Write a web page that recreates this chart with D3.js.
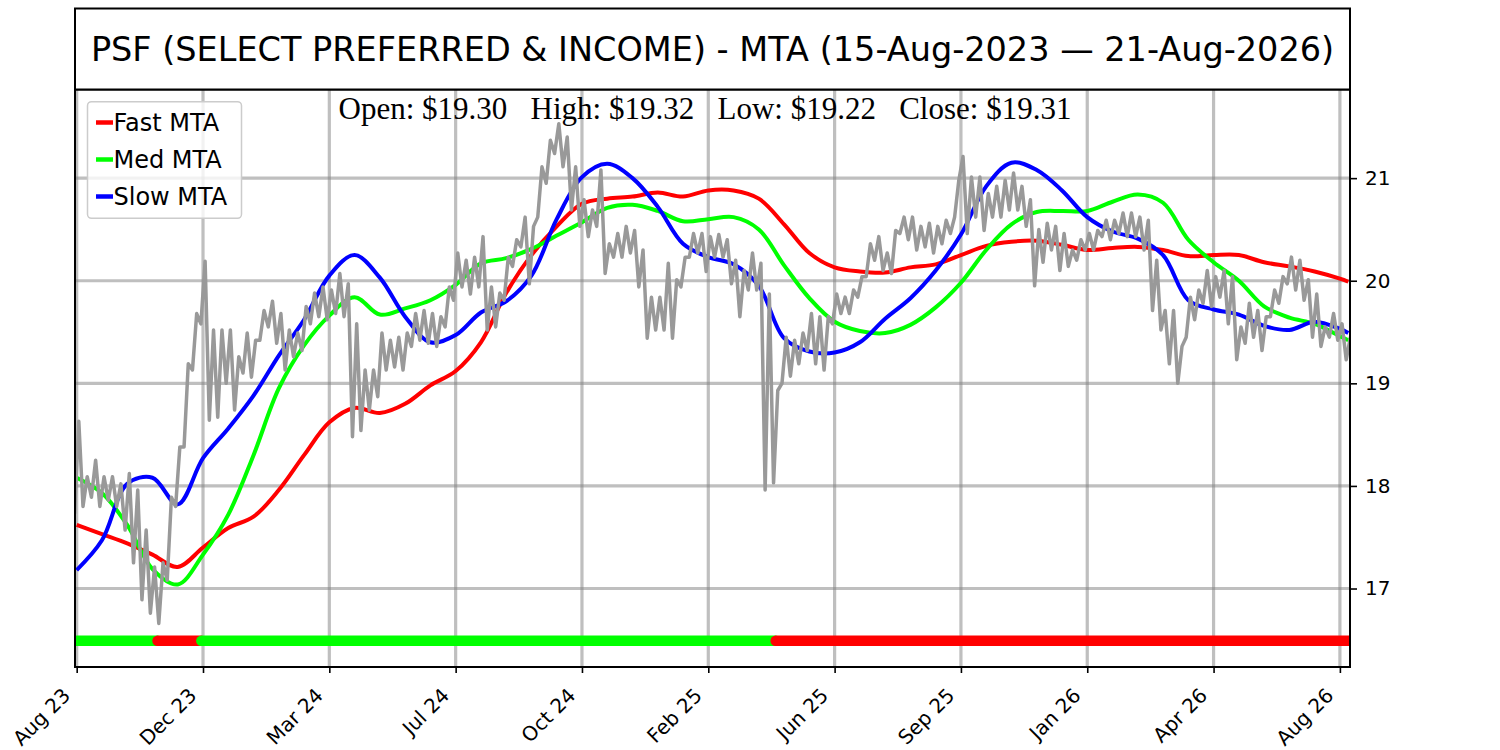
<!DOCTYPE html>
<html>
<head>
<meta charset="utf-8">
<script src="https://cdn.jsdelivr.net/npm/d3@7"></script>
<style>
  body { margin: 0; background: #fff; }
  svg { display: block; }
</style>
</head>
<body>
<div id="chart"></div>
<script>
// dados (índice de pregão no eixo x)
const titleText = "PSF (SELECT PREFERRED & INCOME) - MTA (15-Aug-2023 \u2014 21-Aug-2026)";
const ohlcText = "Open: $19.30   High: $19.32   Low: $19.22   Close: $19.31";

const tickLabels = ["Aug 23", "Dec 23", "Mar 24", "Jul 24", "Oct 24", "Feb 25",
  "Jun 25", "Sep 25", "Jan 26", "Apr 26", "Aug 26"];
const tickStep = 75;
const yTicks = [17, 18, 19, 20, 21];
const lastIndex = 755;

// máxima e mínima do preço por bloco de 5 pregões
const priceStep = 5;
const priceHigh = [
  18.63, 18.09, 18.25, 18.09, 18.09, 18.02, 18.12, 17.96, 17.57, 17.21,
  17.25, 17.89, 18.38, 19.19, 19.68, 20.19, 19.52, 19.52, 19.52, 19.26,
  19.49, 19.42, 19.71, 19.80, 19.68, 19.52, 19.49, 19.75, 19.88, 19.94,
  19.91, 20.07, 19.97, 19.58, 19.13, 19.13, 19.49, 19.42, 19.45, 19.49,
  19.68, 19.71, 19.68, 19.65, 19.94, 20.27, 20.20, 20.23, 20.43, 19.94,
  19.88, 20.23, 20.40, 20.62, 20.53, 21.11, 21.37, 21.53, 21.40, 21.11,
  20.79, 20.69, 21.08, 20.36, 20.46, 20.53, 20.49, 20.30, 19.84, 19.84,
  20.17, 20.01, 20.23, 20.46, 20.46, 20.43, 20.45, 20.40, 20.20, 20.10,
  20.27, 20.17, 19.87, 18.93, 19.45, 19.42, 19.49, 19.68, 19.65, 19.65,
  19.87, 19.84, 19.91, 20.04, 20.36, 20.43, 20.27, 20.49, 20.62, 20.62,
  20.53, 20.56, 20.53, 20.59, 20.62, 21.21, 21.01, 21.01, 20.85, 20.92,
  20.98, 21.05, 20.92, 20.79, 20.50, 20.56, 20.53, 20.46, 20.30, 20.40,
  20.46, 20.49, 20.59, 20.59, 20.66, 20.66, 20.62, 20.59, 20.20, 19.71,
  19.71, 19.36, 19.84, 19.91, 20.10, 20.04, 20.10, 20.04, 19.55, 19.78,
  19.71, 19.65, 19.91, 20.04, 20.23, 20.20, 20.01, 19.87, 19.55, 19.68,
  19.58, 19.45
];
const priceLow = [
  17.73, 17.80, 17.89, 17.80, 17.86, 17.80, 17.57, 17.25, 16.89, 16.76,
  16.66, 17.08, 17.80, 18.38, 19.13, 19.58, 18.64, 18.67, 19.00, 18.74,
  19.10, 19.06, 19.42, 19.55, 19.39, 19.13, 19.26, 19.32, 19.58, 19.65,
  19.62, 19.68, 19.65, 18.48, 18.54, 18.74, 18.87, 19.13, 19.16, 19.13,
  19.36, 19.42, 19.39, 19.36, 19.55, 19.81, 19.94, 19.87, 19.94, 19.52,
  19.55, 19.81, 20.14, 20.33, 19.97, 20.62, 20.95, 21.24, 21.11, 20.69,
  20.53, 20.43, 20.53, 20.07, 20.23, 20.23, 20.27, 19.94, 19.44, 19.52,
  19.52, 19.44, 19.94, 20.23, 20.27, 20.09, 20.23, 20.23, 19.97, 19.65,
  19.91, 19.91, 17.96, 18.03, 19.00, 19.07, 19.19, 19.32, 19.19, 19.13,
  19.58, 19.68, 19.68, 19.84, 20.04, 20.20, 20.10, 20.07, 20.46, 20.40,
  20.30, 20.33, 20.27, 20.36, 20.46, 20.98, 20.46, 20.62, 20.49, 20.62,
  20.62, 20.69, 20.69, 20.53, 19.95, 20.18, 20.30, 20.10, 20.14, 20.20,
  20.30, 20.30, 20.43, 20.40, 20.46, 20.43, 20.43, 20.30, 19.71, 19.52,
  19.19, 19.00, 19.45, 19.62, 19.78, 19.75, 19.84, 19.58, 19.23, 19.39,
  19.45, 19.32, 19.65, 19.78, 19.97, 19.91, 19.81, 19.45, 19.36, 19.45,
  19.42, 19.23
];

// médias MTA (a cada 15 pregões, mais o último)
const mtaStep = 15;
const fastMTA = [
  17.62, 17.53, 17.44, 17.33, 17.21, 17.4, 17.59, 17.7, 17.96, 18.3,
  18.62, 18.76, 18.71, 18.8, 18.98, 19.12, 19.4, 19.88, 20.25, 20.53,
  20.75, 20.8, 20.82, 20.86, 20.82, 20.88, 20.88, 20.8, 20.55, 20.27,
  20.13, 20.09, 20.08, 20.13, 20.16, 20.25, 20.34, 20.38, 20.39, 20.35,
  20.3, 20.32, 20.33, 20.3, 20.24, 20.25, 20.25, 20.18, 20.14, 20.09,
  20.02, 19.99
];
const medMTA = [
  18.08, 17.93, 17.62, 17.19, 17.04, 17.33, 17.72, 18.3, 18.95, 19.37,
  19.66, 19.84, 19.67, 19.73, 19.81, 19.96, 20.17, 20.22, 20.31, 20.44,
  20.57, 20.71, 20.74, 20.68, 20.58, 20.6, 20.62, 20.5, 20.15, 19.83,
  19.6, 19.51, 19.49, 19.57, 19.74, 19.98, 20.3, 20.55, 20.67, 20.68,
  20.68, 20.77, 20.84, 20.76, 20.4, 20.18, 20.0, 19.75, 19.64, 19.58,
  19.46, 19.42
];
const slowMTA = [
  17.18, 17.47, 18.02, 18.08, 17.82, 18.27, 18.56, 18.88, 19.27, 19.62,
  20.05, 20.25, 20.03, 19.65, 19.4, 19.47, 19.69, 19.8, 20.05, 20.6,
  21.01, 21.14, 21.0, 20.72, 20.36, 20.23, 20.16, 19.95, 19.44, 19.31,
  19.3, 19.4, 19.63, 19.83, 20.1, 20.45, 20.92, 21.15, 21.08, 20.88,
  20.62, 20.48, 20.41, 20.25, 19.81, 19.72, 19.67, 19.56, 19.52, 19.6,
  19.53, 19.49
];

// faixa de regime no rodapé
const regimeStart = [0, 48, 74, 415];
const regimeState = ["up", "down", "up", "down"];
const regimeLevel = 16.49;

const seriesNames = ["Fast MTA", "Med MTA", "Slow MTA"];
const seriesColors = { "Fast MTA": "#ff0000", "Med MTA": "#00ff00", "Slow MTA": "#0000ff" };
const regimeColors = { up: "#00ff00", down: "#ff0000" };

// layout
const W = 1500, H = 750;
const plot = { left: 75, right: 1350, top: 89.5, bottom: 667 };

const svg = d3.select("#chart").append("svg")
  .attr("width", W).attr("height", H);

const x = d3.scaleLinear().domain([-1, lastIndex + 1]).range([plot.left, plot.right]);
const y = d3.scaleLinear().domain([16.235, 21.864]).range([plot.bottom, plot.top]);

svg.append("clipPath").attr("id", "clip")
  .append("rect")
  .attr("x", plot.left).attr("y", plot.top)
  .attr("width", plot.right - plot.left).attr("height", plot.bottom - plot.top);

const tickIdx = tickLabels.map((d, i) => i * tickStep);

// grade
const grid = svg.append("g").attr("clip-path", "url(#clip)");
grid.selectAll(".vgrid").data(tickIdx).enter().append("line")
  .attr("x1", d => x(d)).attr("x2", d => x(d))
  .attr("y1", plot.top).attr("y2", plot.bottom)
  .attr("stroke", "#808080").attr("stroke-opacity", 0.5).attr("stroke-width", 3.2);
grid.selectAll(".hgrid").data(yTicks).enter().append("line")
  .attr("x1", plot.left).attr("x2", plot.right)
  .attr("y1", d => y(d)).attr("y2", d => y(d))
  .attr("stroke", "#808080").attr("stroke-opacity", 0.5).attr("stroke-width", 3.2);

const body = svg.append("g").attr("clip-path", "url(#clip)");

// linhas MTA
const mtaIndex = fastMTA.map((d, i) => Math.min(i * mtaStep, lastIndex));
const mtaData = { "Fast MTA": fastMTA, "Med MTA": medMTA, "Slow MTA": slowMTA };
const mtaLine = d3.line()
  .x((d, i) => x(mtaIndex[i]))
  .y(d => y(d))
  .curve(d3.curveCatmullRom.alpha(0.5));

seriesNames.forEach(name => {
  body.append("path")
    .datum(mtaData[name])
    .attr("fill", "none")
    .attr("stroke", seriesColors[name])
    .attr("stroke-width", 4)
    .attr("d", mtaLine);
});

// preço: dente de serra entre mínima e máxima de cada bloco (por cima das médias)
const pricePts = [];
priceHigh.forEach((hi, i) => {
  const idx = i * priceStep;
  pricePts.push([idx - priceStep / 4, priceLow[i]], [idx + priceStep / 4, hi]);
});
body.append("path")
  .datum(pricePts)
  .attr("fill", "none")
  .attr("stroke", "#999999")
  .attr("stroke-width", 3.5)
  .attr("stroke-linejoin", "round")
  .attr("d", d3.line().x(d => x(d[0])).y(d => y(d[1])));

// faixa de regime
body.selectAll(".regime").data(regimeStart).enter().append("line")
  .attr("x1", d => x(d))
  .attr("x2", (d, i) => x(i < regimeStart.length - 1 ? regimeStart[i + 1] : lastIndex + 3))
  .attr("y1", y(regimeLevel)).attr("y2", y(regimeLevel))
  .attr("stroke", (d, i) => regimeColors[regimeState[i]])
  .attr("stroke-width", 10.5)
  .attr("stroke-linecap", "round");

// eixos
const xAxis = svg.append("g")
  .attr("transform", `translate(0,${plot.bottom})`)
  .call(d3.axisBottom(x).tickValues(tickIdx).tickFormat((d, i) => tickLabels[i]).tickSize(6).tickSizeOuter(0));
xAxis.select(".domain").remove();
xAxis.selectAll(".tick line").attr("stroke", "#000").attr("stroke-width", 1.6);
xAxis.selectAll("text")
  .attr("font-family", "DejaVu Sans")
  .attr("font-size", "20px")
  .attr("fill", "#000")
  .style("text-anchor", "end")
  .attr("dx", "-1.25em")
  .attr("dy", "0.4em")
  .attr("transform", "rotate(-45)");

const yAxis = svg.append("g")
  .attr("transform", `translate(${plot.right},0)`)
  .call(d3.axisRight(y).tickValues(yTicks).tickFormat(d3.format("d")).tickSize(7).tickPadding(8).tickSizeOuter(0));
yAxis.select(".domain").remove();
yAxis.selectAll(".tick line").attr("stroke", "#000").attr("stroke-width", 1.6);
yAxis.selectAll("text")
  .attr("font-family", "DejaVu Sans")
  .attr("font-size", "20px")
  .attr("fill", "#000");

// moldura do gráfico
svg.append("rect")
  .attr("x", plot.left).attr("y", plot.top)
  .attr("width", plot.right - plot.left).attr("height", plot.bottom - plot.top)
  .attr("fill", "none").attr("stroke", "#000").attr("stroke-width", 2);

// caixa do título
svg.append("rect")
  .attr("x", plot.left).attr("y", 8.5)
  .attr("width", plot.right - plot.left).attr("height", plot.top - 8.5)
  .attr("fill", "#fff").attr("stroke", "#000").attr("stroke-width", 2);
svg.append("text")
  .attr("x", (plot.left + plot.right) / 2).attr("y", 61)
  .attr("text-anchor", "middle")
  .attr("font-family", "DejaVu Sans")
  .attr("font-size", "33.5px")
  .attr("fill", "#000")
  .text(titleText);

// texto OHLC
svg.append("text")
  .attr("x", 705).attr("y", 119)
  .attr("text-anchor", "middle")
  .attr("font-family", "Liberation Serif, Times New Roman, serif")
  .attr("font-size", "31px")
  .attr("fill", "#000")
  .style("white-space", "pre")
  .text(ohlcText);

// legenda
const legend = svg.append("g");
legend.append("rect")
  .attr("x", 87.5).attr("y", 101.7)
  .attr("width", 154).attr("height", 116.6)
  .attr("rx", 4)
  .attr("fill", "#fff").attr("fill-opacity", 0.8)
  .attr("stroke", "#cccccc").attr("stroke-width", 1.5);
seriesNames.forEach((name, i) => {
  const cy = 122.5 + i * 37;
  legend.append("line")
    .attr("x1", 96).attr("x2", 113)
    .attr("y1", cy).attr("y2", cy)
    .attr("stroke", seriesColors[name]).attr("stroke-width", 4.5);
  legend.append("text")
    .attr("x", 113.5).attr("y", cy)
    .attr("dy", "0.36em")
    .attr("font-family", "DejaVu Sans")
    .attr("font-size", "24px")
    .attr("fill", "#000")
    .text(name);
});
</script>
</body>
</html>
